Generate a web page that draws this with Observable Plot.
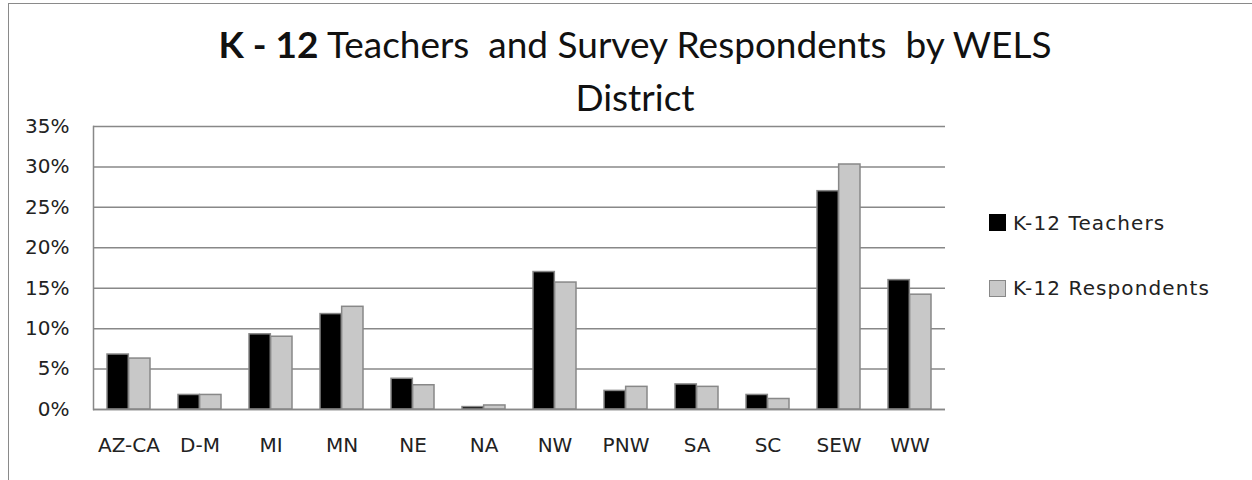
<!DOCTYPE html>
<html>
<head>
<meta charset="utf-8">
<script src="https://cdn.jsdelivr.net/npm/d3@7"></script>
<script src="https://cdn.jsdelivr.net/npm/@observablehq/plot@0.6"></script>
<style>
  html, body { margin: 0; padding: 0; background: #fff; }
  #wrap { position: relative; width: 1252px; height: 480px; overflow: hidden; background: #fff; }
  #frame { position: absolute; left: 8px; top: 3px; width: 1260px; height: 500px; border-left: 1px solid #8a8a8a; border-top: 1px solid #8a8a8a; }
  .title { position: absolute; left: 0; width: 1270px; text-align: center; font-family: Lato, "Open Sans", sans-serif; font-size: 37px; line-height: 37px; color: #111; white-space: pre; }
  .title b { font-weight: 700; }
  #chart { position: absolute; left: 0; top: 98px; }
  .leg { position: absolute; font-family: "DejaVu Sans", sans-serif; font-size: 20px; line-height: 20px; color: #222; letter-spacing: 1.1px; white-space: nowrap; }
  .sw { position: absolute; width: 15px; height: 15px; }
</style>
</head>
<body>
<div id="wrap">
  <div id="frame"></div>
  <div class="title" id="t1" style="top:25px"></div>
  <div class="title" id="t2" style="top:78px"></div>
  <div id="chart"></div>
  <div id="legend"></div>
</div>
<script>
const titleBold = "K - 12";
const titleRest = " Teachers  and Survey Respondents  by WELS";
const titleLine2 = "District";
const districts = ["AZ-CA","D-M","MI","MN","NE","NA","NW","PNW","SA","SC","SEW","WW"];
const seriesNames = ["K-12 Teachers","K-12 Respondents"];
const teachers =    [6.8, 1.8, 9.3, 11.8, 3.8, 0.3, 17.0, 2.3, 3.1, 1.8, 27.0, 16.0];
const respondents = [6.3, 1.8, 9.0, 12.7, 3.0, 0.5, 15.7, 2.8, 2.8, 1.3, 30.3, 14.2];
const yTicks = [0, 5, 10, 15, 20, 25, 30, 35];
const seriesColors = ["#000000", "#c8c8c8"];

const t1 = document.getElementById("t1");
const b = document.createElement("b"); b.textContent = titleBold;
t1.appendChild(b); t1.appendChild(document.createTextNode(titleRest));
document.getElementById("t2").textContent = titleLine2;

const teacherData = districts.map((d, i) => ({district: d, series: seriesNames[0], value: teachers[i]}));
const respondentData = districts.map((d, i) => ({district: d, series: seriesNames[1], value: respondents[i]}));

const W = 1252, ML = 93, MR = 307;
const paddingInner = 0.39;
const bandwidth = (W - ML - MR) / districts.length * (1 - paddingInner);
const half = bandwidth / 2;

const chart = Plot.plot({
  width: W,
  height: 382,
  marginTop: 28,
  marginLeft: ML,
  marginRight: MR,
  marginBottom: 71,
  style: {fontFamily: "DejaVu Sans, sans-serif", fontSize: "20px", color: "#222", background: "transparent"},
  x: {domain: districts, paddingInner: paddingInner, paddingOuter: paddingInner / 2, label: null, tickSize: 0, tickPadding: 28},
  y: {domain: [0, 35], ticks: yTicks, tickFormat: d => d + "%", label: null, tickSize: 0, tickPadding: 24},
  color: {domain: seriesNames, range: seriesColors},
  marks: [
    Plot.gridY(yTicks, {stroke: "#888", strokeOpacity: 1, strokeWidth: 1.5}),
    Plot.barY(teacherData, {x: "district", y: "value", fill: "series", stroke: "#888", strokeWidth: 1.5, insetRight: half}),
    Plot.barY(respondentData, {x: "district", y: "value", fill: "series", stroke: "#888", strokeWidth: 1.5, insetLeft: half}),
    Plot.ruleY([0], {stroke: "#888", strokeWidth: 1.5}),
    Plot.frame({anchor: "left", stroke: "#888", strokeWidth: 1.5}),
    Plot.axisY({ticks: yTicks, tickFormat: d => d + "%", tickSize: 0, tickPadding: 24, label: null}),
    Plot.axisX({tickSize: 0, tickPadding: 28, label: null})
  ]
});
document.getElementById("chart").appendChild(chart);

const legend = document.getElementById("legend");
const legPos = [{sq: 214, tx: 213}, {sq: 280, tx: 278}];
seriesNames.forEach((name, i) => {
  const sw = document.createElement("div");
  sw.className = "sw";
  sw.style.left = "989px"; sw.style.top = legPos[i].sq + "px";
  sw.style.background = seriesColors[i];
  sw.style.border = "1px solid " + (i === 0 ? "#000" : "#888");
  legend.appendChild(sw);
  const tx = document.createElement("div");
  tx.className = "leg";
  tx.style.left = "1013px"; tx.style.top = legPos[i].tx + "px";
  tx.textContent = name;
  legend.appendChild(tx);
});
</script>
</body>
</html>
